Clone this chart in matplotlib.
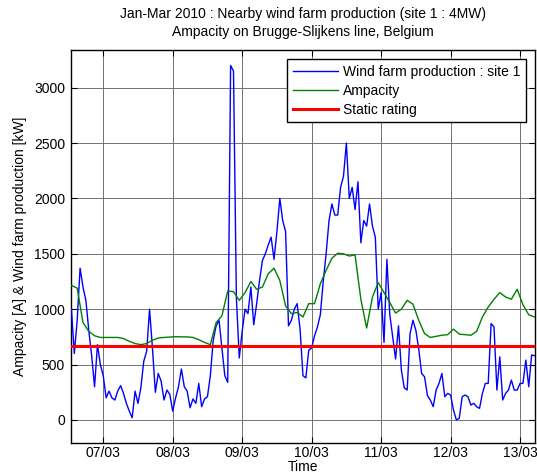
import matplotlib
matplotlib.use('Agg')
import matplotlib.pyplot as plt
import pandas as pd

# ---------------- data ----------------
title_line1 = "Jan-Mar 2010 : Nearby wind farm production (site 1 : 4MW)"
title_line2 = "Ampacity on Brugge-Slijkens line, Belgium"
x_label = "Time"
y_label = "Ampacity [A] & Wind farm production [kW]"

wind_start = "2010-03-06 13:00"
wind_step = "1h"
wind_kw = [1000, 600, 900, 1370, 1200, 1080, 810, 580, 300, 680,
           500, 400, 200, 260, 200, 180, 260, 310, 240, 150,
           80, 20, 260, 150, 290, 530, 620, 1000, 650, 250,
           420, 350, 180, 270, 230, 80, 200, 300, 460, 300,
           260, 110, 190, 150, 330, 120, 190, 210, 400, 720,
           850, 900, 650, 400, 340, 3200, 3150, 1100, 560, 800,
           1000, 960, 1200, 860, 1050, 1260, 1440, 1500, 1580, 1650,
           1450, 1700, 2000, 1800, 1700, 850, 900, 1000, 1050, 820,
           400, 380, 630, 650, 760, 840, 950, 1250, 1500, 1800,
           1950, 1850, 1850, 2100, 2200, 2500, 2000, 2100, 1900, 2150,
           1600, 1800, 1750, 1950, 1750, 1650, 1000, 1150, 700, 1450,
           950, 750, 550, 850, 450, 290, 270, 780, 900, 810,
           640, 420, 390, 220, 180, 120, 270, 330, 420, 210,
           240, 225, 90, 0, 15, 210, 225, 210, 135, 150,
           120, 105, 240, 330, 330, 870, 840, 270, 570, 180,
           240, 270, 360, 270, 270, 330, 330, 540, 300, 587,
           580]

amp_start = "2010-03-06 13:00"
amp_step = "2h"
ampacity_a = [1215, 1190, 880, 800, 760, 745, 745, 745, 745, 735,
              710, 690, 680, 690, 720, 740, 745, 748, 752, 750,
              750, 745, 725, 700, 680, 880, 940, 1165, 1158, 1080,
              1150, 1250, 1180, 1200, 1320, 1370, 1260, 1030, 960, 970,
              930, 1050, 1050, 1230, 1350, 1460, 1505, 1500, 1480, 1490,
              1090, 830, 1110, 1240, 1150, 1060, 965, 1000, 1080, 1045,
              900, 780, 745, 755, 765, 770, 820, 775, 770, 765,
              800, 930, 1020, 1090, 1150, 1110, 1090, 1180, 1040, 950,
              930]

static_rating_a = 670

legend_labels = ["Wind farm production : site 1", "Ampacity", "Static rating"]
x_tick_dates = ["2010-03-07", "2010-03-08", "2010-03-09", "2010-03-10",
                "2010-03-11", "2010-03-12", "2010-03-13"]
x_tick_labels = ["07/03", "08/03", "09/03", "10/03", "11/03", "12/03", "13/03"]
y_ticks = [0, 500, 1000, 1500, 2000, 2500, 3000]
x_limits = ["2010-03-06 12:46", "2010-03-13 05:10"]
y_limits = [-208, 3340]

# ---------------- plot ----------------
plt.rcParams['font.family'] = ['Liberation Sans', 'DejaVu Sans']
fs = 10

wind_time = pd.date_range(wind_start, periods=len(wind_kw), freq=wind_step)
amp_time = pd.date_range(amp_start, periods=len(ampacity_a), freq=amp_step)

fig = plt.figure(figsize=(5.37, 4.76), dpi=100)
ax = fig.add_axes([0.1317, 0.0693, 0.8646, 0.8257])

ax.plot(wind_time, wind_kw, color=(0, 0, 1), lw=1.0, label=legend_labels[0], zorder=3)
ax.plot(amp_time, ampacity_a, color=(0, 0.5, 0), lw=1.0, label=legend_labels[1], zorder=3)
ax.axhline(static_rating_a, color=(1, 0, 0), lw=2.2, label=legend_labels[2], zorder=4)

ax.set_xlim(pd.Timestamp(x_limits[0]), pd.Timestamp(x_limits[1]))
ax.set_ylim(*y_limits)
ax.set_xticks([pd.Timestamp(d) for d in x_tick_dates])
ax.set_xticklabels(x_tick_labels)
ax.set_yticks(y_ticks)

ax.grid(True, color=(0.45, 0.45, 0.45), lw=0.7, ls='-')
ax.set_axisbelow(True)
ax.tick_params(direction='in', top=True, right=True, length=4, width=0.8,
               labelsize=fs, pad=4, colors='black')
ax.tick_params(axis='x', pad=2.5)
for sp in ax.spines.values():
    sp.set_linewidth(1.0)
    sp.set_color('black')

ax.set_xlabel(x_label, fontsize=fs)
ax.xaxis.set_label_coords(0.5, -0.0435)
ax.set_ylabel(y_label, fontsize=fs, labelpad=5)

fig.text(0.5645, 1 - 14 / 476, title_line1, ha='center', va='center', fontsize=fs)
fig.text(0.5645, 1 - 32 / 476, title_line2, ha='center', va='center', fontsize=fs)

leg = ax.legend(loc='upper right', bbox_to_anchor=(0.98, 0.977), fontsize=fs,
                frameon=True, fancybox=False, shadow=False, borderaxespad=0,
                handlelength=3.25, labelspacing=0.35, borderpad=0.42,
                handletextpad=0.35)
leg.get_frame().set_edgecolor('black')
leg.get_frame().set_linewidth(1.0)
leg.get_frame().set_alpha(1.0)

fig.savefig("out.png", dpi=100)
